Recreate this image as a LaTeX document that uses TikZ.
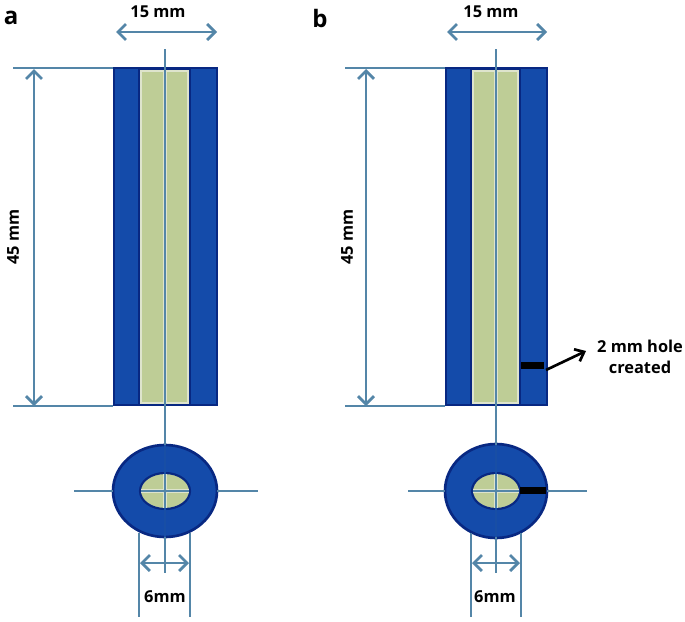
\documentclass[tikz,border=0pt]{standalone}
\usepackage{fontspec}
\setmainfont{Open Sans}
\usetikzlibrary{arrows.meta}
\definecolor{dimblue}{RGB}{84,134,168}
\definecolor{tubeblue}{RGB}{20,75,170}
\definecolor{edgeblue}{RGB}{8,40,130}
\definecolor{corefill}{RGB}{190,205,150}
\definecolor{corepale}{RGB}{222,228,205}
\definecolor{intube}{RGB}{24,78,165}
\tikzset{
  x=0.75pt,y=-0.75pt,
  dimline/.style={draw=dimblue,line width=1.8pt},
  axisline/.style={draw=dimblue,line width=2.2pt},
  halo/.style={draw=corepale,line width=3.6pt},
  hidden/.style={draw=intube,line width=1.8pt},
  dimarrow/.style={draw=dimblue,line width=2pt,{Straight Barb[length=6pt,width=12pt]}-{Straight Barb[length=6pt,width=12pt]}},
  tube/.style={draw=edgeblue,line width=2pt,fill=tubeblue},
  core/.style={draw=edgeblue,line width=1.6pt,fill=corefill},
  corein/.style={draw=corepale,line width=1pt},
  lab/.style={font=\bfseries\fontsize{12.3pt}{14pt}\selectfont,text=black,inner sep=0pt,align=center},
  panel/.style={font=\bfseries\fontsize{18pt}{20pt}\selectfont,text=black,inner sep=0pt},
  hole/.style={fill=black,draw=none}
}
\begin{document}
\begin{tikzpicture}
\useasboundingbox (0,0) rectangle (685,621);
\node[panel] (pa) at (11,18) {a};
\node[panel] (pb) at (320,18) {b};
% ---- panel a
\coordinate (aTL) at (13,68); \coordinate (aBL) at (13,406);
\draw[tube] (114,68) rectangle (217,405);
\draw[core] (139,69) rectangle (190,404);
\draw[corein] (141,71) rectangle (188,403);
\draw[dimline] (aTL) -- (113,68);
\draw[dimline] (aBL) -- (113,406);
\coordinate (aT) at (165,49);
\coordinate (aR) at (165,405);
\coordinate (aC1) at (165,445);
\coordinate (aB) at (165,573);
\coordinate (aC2) at (165,537);
\draw[tube] (165,491) ellipse [x radius=52,y radius=46];
\draw[core] (165,491) ellipse [x radius=25,y radius=18];
\draw[halo] (165,71) -- (165,403);
\draw[axisline] (aT) -- (aR);
\draw[axisline] (aR) -- (aC1);
\draw[axisline] (aC2) -- (aB);
\draw[hidden] (aC1) -- (aC2);
\draw[corepale,line width=3pt] (165,474) -- (165,508) (141,491) -- (189,491);
\draw[dimline] (165,474) -- (165,508) (141,491) -- (189,491);
\coordinate (aHL) at (74,491); \coordinate (aHR) at (258,491);
\draw[dimline] (aHL) -- (113,491);
\draw[dimline] (217,491) -- (aHR);
\coordinate (aV1) at (139,533); \coordinate (aV1e) at (139,617);
\coordinate (aV2) at (190,533); \coordinate (aV2e) at (190,617);
\draw[axisline] (aV1) -- (aV1e);
\draw[axisline] (aV2) -- (aV2e);
\coordinate (aW1) at (116,32); \coordinate (aW2) at (217,32);
\draw[dimarrow] (aW1) -- (aW2);
\coordinate (aH1) at (34,69); \coordinate (aH2) at (34,406);
\draw[dimarrow] (aH1) -- (aH2);
\coordinate (aD1) at (140,563); \coordinate (aD2) at (189,563);
\draw[dimarrow] (aD1) -- (aD2);
\node[lab] (a15) at (158,12) {15 mm};
\node[lab,rotate=90] (a45) at (13,237) {45 mm};
\node[lab] (a6) at (165,597) {6mm};
% ---- panel b
\coordinate (bTL) at (345,68); \coordinate (bBL) at (345,406);
\draw[tube] (446,68) rectangle (547,405);
\draw[core] (471,69) rectangle (520,404);
\draw[corein] (473,71) rectangle (518,403);
\draw[dimline] (bTL) -- (445,68);
\draw[dimline] (bBL) -- (445,406);
\coordinate (bT) at (496,49);
\coordinate (bR) at (496,405);
\coordinate (bC1) at (496,445);
\coordinate (bC2) at (496,537);
\coordinate (bB) at (496,573);
\draw[tube] (496,491) ellipse [x radius=51,y radius=47];
\draw[core] (496,491) ellipse [x radius=24,y radius=18];
\draw[halo] (496,71) -- (496,403);
\draw[axisline] (bT) -- (bR);
\draw[axisline] (bR) -- (bC1);
\draw[axisline] (bC2) -- (bB);
\draw[hidden] (bC1) -- (bC2);
\draw[corepale,line width=3pt] (496,474) -- (496,508) (473,491) -- (519,491);
\draw[dimline] (496,474) -- (496,508) (473,491) -- (519,491);
\coordinate (bHL) at (408,491); \coordinate (bHR) at (587,491);
\draw[dimline] (bHL) -- (445,491);
\draw[dimline] (547,491) -- (bHR);
\fill[hole] (520,487) rectangle (546,494);
\fill[hole] (521,362) rectangle (544,369);
\coordinate (bV1) at (471,533); \coordinate (bV1e) at (471,617);
\coordinate (bV2) at (521,533); \coordinate (bV2e) at (521,617);
\draw[axisline] (bV1) -- (bV1e);
\draw[axisline] (bV2) -- (bV2e);
\coordinate (bW1) at (447,32); \coordinate (bW2) at (547,32);
\draw[dimarrow] (bW1) -- (bW2);
\coordinate (bH1) at (366,69); \coordinate (bH2) at (366,406);
\draw[dimarrow] (bH1) -- (bH2);
\coordinate (bD1) at (472,563); \coordinate (bD2) at (520,563);
\draw[dimarrow] (bD1) -- (bD2);
\node[lab] (b15) at (491,12) {15 mm};
\node[lab,rotate=90] (b45) at (347,237) {45 mm};
\node[lab] (b6) at (495,597) {6mm};
\node[lab] (bhole) at (640,357) {2 mm hole\\[2pt]created};
\coordinate (bArrowS) at (546,370);
\coordinate (bArrowE) at (586,351);
\draw[draw=black,line width=2pt,-{Straight Barb[length=6pt,width=10pt]}] (bArrowS) -- (bArrowE);
\end{tikzpicture}
\end{document}
